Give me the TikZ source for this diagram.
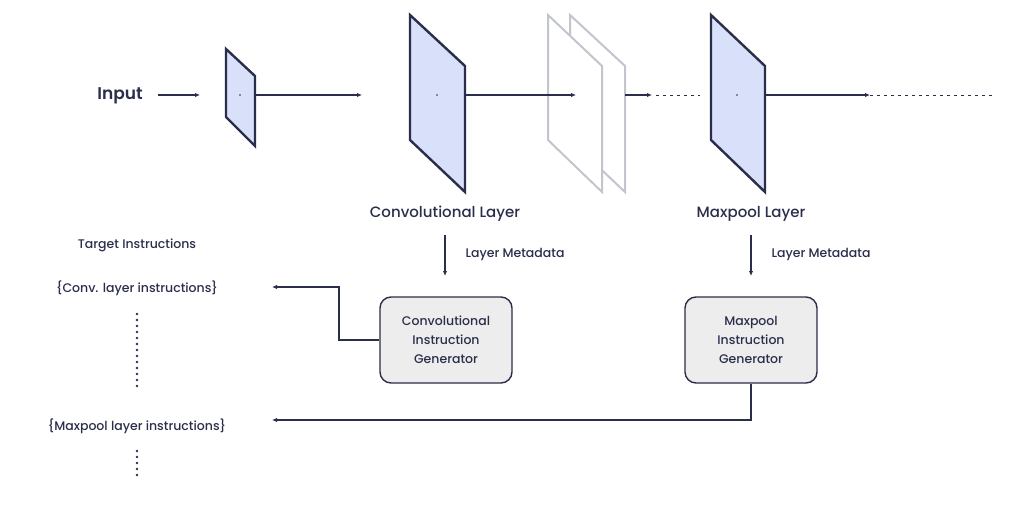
\documentclass[tikz,border=0pt]{standalone}
\usepackage{fontspec}
\setmainfont{Poppins}
\newfontfamily\popmed{Poppins Medium}
\newfontfamily\popsemi{Poppins SemiBold}
\usetikzlibrary{arrows.meta}
\definecolor{navy}{HTML}{2B2E4A}
\definecolor{sheetfill}{HTML}{D9E0FA}
\definecolor{sheetgray}{HTML}{C3C5CE}
\definecolor{boxfill}{HTML}{EDEDED}
\tikzset{
  arr/.style={draw=navy, line width=1.1pt, -{Latex[length=5pt,width=4.5pt]}},
  sheetbox/.style={draw=navy, fill=sheetfill, line width=2.4pt, line join=miter},
  graysheet/.style={draw=sheetgray, fill=white, line width=2pt, line join=miter},
  genbox/.style={draw=navy, fill=boxfill, line width=1.4pt, rounded corners=11pt, minimum width=132pt, minimum height=86pt, align=center, text=navy, font=\popmed\fontsize{12.5}{19}\selectfont},
  lbl/.style={text=navy, font=\popmed\fontsize{12.5}{15}\selectfont},
  biglbl/.style={text=navy, font=\popmed\fontsize{15}{18}\selectfont},
  vdots/.style={draw=navy, line width=2.6pt, line cap=round, dash pattern=on 0pt off 6pt},
  hdash/.style={draw=navy, line width=0.8pt, dash pattern=on 3pt off 4pt},
  cdot/.style={fill=navy, draw=none}
}
\begin{document}
\begin{tikzpicture}[x=1pt,y=-1pt]
\useasboundingbox (0,0) rectangle (1022,505);

% input
\node[text=navy, font=\popsemi\fontsize{17}{20}\selectfont] (input) at (120,96) {Input};
\coordinate (ia) at (158,95);
\coordinate (ib) at (200,95);
\draw[arr] (ia) -- (ib);

% small sheet
\draw[sheetbox] (226,49) -- (255,76) -- (255,146) -- (226,117) -- cycle;
\coordinate (s1c) at (240,95);
\coordinate (s1r) at (255,95);
\fill[cdot] (s1c) circle (0.8);

% conv sheet
\draw[sheetbox] (410,15) -- (465,66) -- (465,192) -- (410,140) -- cycle;
\coordinate (cvl) at (362,95);
\coordinate (cvc) at (437,95);
\coordinate (cvr) at (465,95);
\fill[cdot] (cvc) circle (0.8);
\draw[arr] (s1r) -- (cvl);

% gray sheets
\draw[graysheet] (570,15) -- (625,66) -- (625,192) -- (570,140) -- cycle;
\draw[graysheet] (548,15) -- (602,66) -- (602,192) -- (548,140) -- cycle;
\coordinate (gin) at (576,95);
\coordinate (gout) at (625,95);
\coordinate (gdots) at (652,95);
\coordinate (gdend) at (700,95);
\draw[arr] (cvr) -- (gin);
\draw[arr] (gout) -- (gdots);
\draw[hdash] (gdots) ++(4,0) -- (gdend);

% maxpool sheet
\draw[sheetbox] (711,15) -- (765,66) -- (765,192) -- (711,140) -- cycle;
\coordinate (mpc) at (737,95);
\coordinate (mpr) at (765,95);
\coordinate (mpa) at (870,95);
\coordinate (mpend) at (992,95);
\fill[cdot] (mpc) circle (0.8);
\draw[arr] (mpr) -- (mpa);
\draw[hdash] (mpa) -- (mpend);

% labels
\node[biglbl] (convl) at (445,213.5) {Convolutional Layer};
\node[biglbl] (maxl) at (751,213.5) {Maxpool Layer};

% metadata arrows
\coordinate (cm1) at (445,235);
\coordinate (cm2) at (445,276);
\draw[arr] (cm1) -- (cm2);
\node[lbl, anchor=west] (cmeta) at (462,254) {Layer Metadata};
\coordinate (mm1) at (751,235);
\coordinate (mm2) at (751,276);
\draw[arr] (mm1) -- (mm2);
\node[lbl, anchor=west] (mmeta) at (768,254) {Layer Metadata};

% generators
\node[genbox] (cg) at (446,340) {Convolutional\\Instruction\\Generator};
\node[genbox] (mg) at (751,340) {Maxpool\\Instruction\\Generator};

% target instructions
\node[lbl] (target) at (137,245) {Target Instructions};
\node[lbl] (convi) at (137,288) {\{Conv. layer instructions\}};
\node[lbl] (maxi) at (137,426) {\{Maxpool layer instructions\}};
\coordinate (ct) at (272,287);
\coordinate (ck) at (339,287);
\coordinate (mt) at (272,420);
\draw[arr] (cg.west) -| (ck) -- (ct);
\draw[arr] (mg.south) |- (mt);

% vertical dots
\coordinate (d1a) at (137,314);
\coordinate (d1b) at (137,386);
\coordinate (d2a) at (137,451);
\coordinate (d2b) at (137,477);
\draw[vdots] (d1a) -- (d1b);
\draw[vdots] (d2a) -- (d2b);
\end{tikzpicture}
\end{document}
